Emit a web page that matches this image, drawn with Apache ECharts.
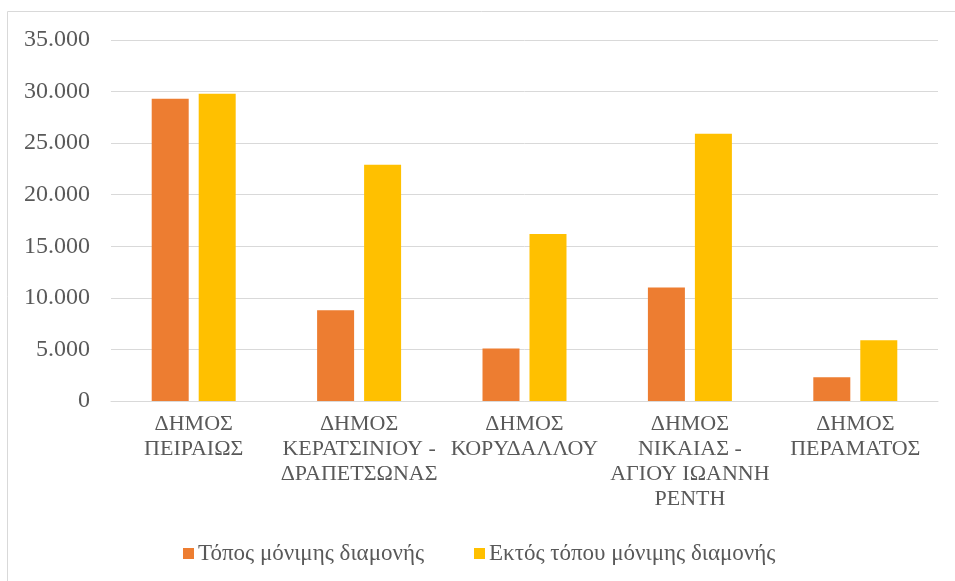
<!DOCTYPE html>
<html><head><meta charset="utf-8">
<script src="https://cdn.jsdelivr.net/npm/echarts@6/dist/echarts.min.js"></script>
<style>html,body{margin:0;padding:0;background:#fff}#c{width:955px;height:581px}</style>
</head><body><div id="c"></div>
<script>
const categories = ['ΔΗΜΟΣ\nΠΕΙΡΑΙΩΣ','ΔΗΜΟΣ\nΚΕΡΑΤΣΙΝΙΟΥ -\nΔΡΑΠΕΤΣΩΝΑΣ','ΔΗΜΟΣ\nΚΟΡΥΔΑΛΛΟΥ','ΔΗΜΟΣ\nΝΙΚΑΙΑΣ -\nΑΓΙΟΥ ΙΩΑΝΝΗ\nΡΕΝΤΗ','ΔΗΜΟΣ\nΠΕΡΑΜΑΤΟΣ'];
const seriesNames = ['Τόπος μόνιμης διαμονής','Εκτός τόπου μόνιμης διαμονής'];
const permanent = [29300, 8800, 5100, 11000, 2300];
const outside = [29800, 22900, 16200, 25900, 5900];
const font = '"Liberation Serif","Times New Roman",serif';
const chart = echarts.init(document.getElementById('c'));
chart.setOption({
  animation:false,
  graphic:[{type:'rect',shape:{x:7.5,y:11.5,width:1000,height:1000},style:{fill:'none',stroke:'#d9d9d9',lineWidth:1}}],
  grid:{left:111,right:17,top:40,bottom:180},
  legend:{bottom:16,left:183,padding:0,itemWidth:11,itemHeight:11,itemGap:50,icon:'rect',
    textStyle:{fontFamily:font,fontSize:23,color:'#595959',padding:[0,0,0,-1]},data:seriesNames},
  xAxis:{type:'category',data:categories,axisTick:{show:false},
    axisLine:{lineStyle:{color:'#d9d9d9',width:1}},
    axisLabel:{fontFamily:font,fontSize:22,color:'#595959',lineHeight:25,margin:11,interval:0}},
  yAxis:{type:'value',min:0,max:35000,interval:5000,
    axisLine:{show:false},axisTick:{show:false},
    splitLine:{lineStyle:{color:'#d9d9d9',width:1}},
    axisLabel:{fontFamily:font,fontSize:24,color:'#595959',margin:21,
      formatter:v=>v===0?'0':v.toLocaleString('de-DE')}},
  series:[
    {name:seriesNames[0],type:'bar',data:permanent,barWidth:37,barGap:'27%',itemStyle:{color:'#ED7D31'}},
    {name:seriesNames[1],type:'bar',data:outside,barWidth:37,itemStyle:{color:'#FFC000'}}
  ]
});
</script></body></html>
